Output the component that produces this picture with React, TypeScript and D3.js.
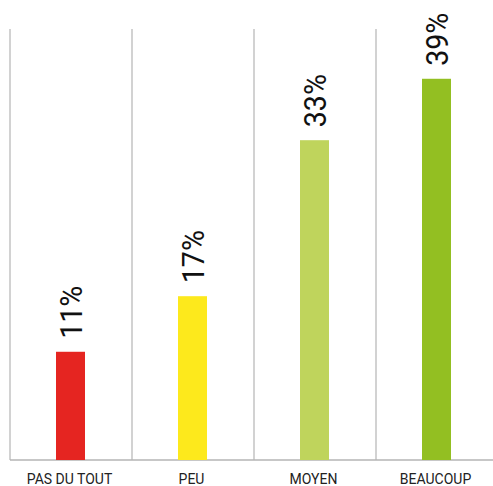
import React from "react";
import * as d3 from "d3";

const categories = ["PAS DU TOUT", "PEU", "MOYEN", "BEAUCOUP"];
const values = [11.1, 16.8, 32.8, 39.1];
const valueLabels = ["11%", "17%", "33%", "39%"];
const colors = ["#e52521", "#fde91c", "#bfd45c", "#93bf22"];

const W = 493;
const H = 486;
const left = 10;
const band = 122;
const baseY = 460;
const topY = 29;

export default function App() {
  const x = d3
    .scaleBand<string>()
    .domain(categories)
    .range([left, left + band * categories.length])
    .paddingInner(0)
    .paddingOuter(0);
  const y = d3.scaleLinear().domain([0, 10]).range([baseY, baseY - 97.5]);
  const barW = 29;

  return (
    <svg
      width={W}
      height={H}
      style={{ position: "absolute", left: 0, top: 0, background: "#fff" }}
    >
      {categories.map((c, i) => (
        <line
          key={"g" + i}
          x1={x(c)!}
          x2={x(c)!}
          y1={topY}
          y2={baseY}
          stroke="#d2d2d2"
          strokeWidth={2}
        />
      ))}
      <line x1={left} x2={W} y1={baseY} y2={baseY} stroke="#b4b4b4" strokeWidth={1.5} />
      {categories.map((c, i) => {
        const cx = x(c)! + x.bandwidth() / 2 - 0.5;
        const top = y(values[i]);
        return (
          <g key={c}>
            <rect x={cx - barW / 2} y={top} width={barW} height={baseY - top} fill={colors[i]} />
            <text
              transform={`translate(${cx},${top - 13}) rotate(-90)`}
              dy="0.36em"
              fontFamily="Roboto, sans-serif"
              fontSize={31}
              textLength={53}
              lengthAdjust="spacingAndGlyphs"
              fill="#111"
            >
              {valueLabels[i]}
            </text>
            <text
              x={cx - 1}
              y={484}
              textAnchor="middle"
              fontFamily="Roboto, sans-serif"
              fontSize={14}
              fill="#222"
            >
              {c}
            </text>
          </g>
        );
      })}
    </svg>
  );
}
